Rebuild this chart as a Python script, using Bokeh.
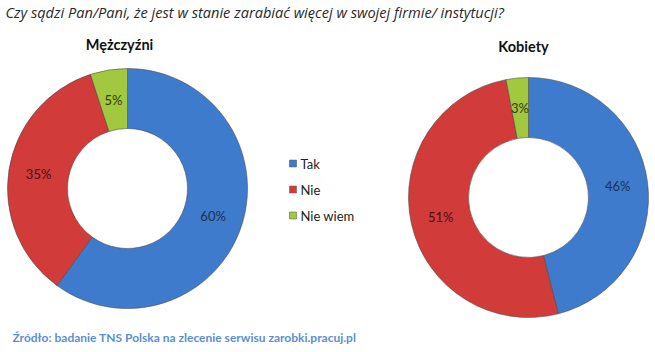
import numpy as np
from bokeh.plotting import figure
from bokeh.models import Range1d, ColumnDataSource
from bokeh.core.properties import value
from bokeh.embed import file_html
from bokeh.resources import INLINE

categories = ["Tak", "Nie", "Nie wiem"]
men = [60, 35, 5]
women = [46, 51, 3]
group_titles = ["Mężczyźni", "Kobiety"]
colors = ["#3f7bcc", "#d13b3a", "#a2c83f"]
label_colors = ["#1d3050", "#4a1010", "#2e3a0e"]
question = "Czy sądzi Pan/Pani, że jest w stanie zarabiać więcej w swojej firmie/ instytucji?"
source_note = "Źródło: badanie TNS Polska na zlecenie serwisu zarobki.pracuj.pl"

W, H = 655, 352
FONT = "Lato"

p = figure(width=W, height=H, x_range=Range1d(0, W), y_range=Range1d(0, H),
           x_axis_type=None, y_axis_type=None, output_backend="svg",
           toolbar_location=None, min_border=0)
p.grid.visible = False
p.outline_line_color = None
p.background_fill_color = "white"
p.border_fill_color = "white"

# layout: donut centres (screen px from top-left), radii
centres = [(127, 188), (528, 197)]
r_in, r_out = 60, 120
title_pos = [(119, 44), (523, 46)]

for values, (cx, cy), gtitle, (tx, ty) in zip([men, women], centres, group_titles, title_pos):
    vals = np.array(values, dtype=float)
    frac = vals / vals.sum()
    cum_end = np.cumsum(frac)
    cum_start = cum_end - frac
    start = np.pi / 2 - 2 * np.pi * cum_start
    end = np.pi / 2 - 2 * np.pi * cum_end
    mid = (cum_start + cum_end) / 2 * 2 * np.pi
    rl = (r_in + r_out) / 2
    src = ColumnDataSource(dict(
        x=[cx] * 3, y=[H - cy] * 3, start=start, end=end, color=colors,
        lx=cx + rl * np.sin(mid), ly=(H - cy) + rl * np.cos(mid),
        lab=[f"{int(v)}%" for v in values], lcol=label_colors))
    p.annular_wedge(x="x", y="y", inner_radius=r_in, outer_radius=r_out,
                    start_angle="start", end_angle="end", direction="clock",
                    fill_color="color", line_color="#4a4a4a", line_alpha=0.7,
                    line_width=0.8, source=src)
    p.text(x="lx", y="ly", text="lab", text_color="lcol", text_align="center",
           text_baseline="middle", text_font=value(FONT), text_font_size="13px",
           source=src)
    p.text(x=[tx], y=[H - ty], text=[gtitle], text_align="center",
           text_baseline="middle", text_font=value(FONT), text_font_size="14.5px",
           text_font_style="bold", text_color="#111111")

# legend
leg_y = [163, 189, 215]
p.scatter(x=[292.5] * 3, y=[H - v for v in leg_y], marker="square", size=7,
          fill_color=colors, line_color="#555555", line_width=0.5)
p.text(x=[300] * 3, y=[H - v for v in leg_y], text=categories, text_align="left",
       text_baseline="middle", text_font=value(FONT), text_font_size="13px",
       text_color="#222222")

# headline question and source
p.text(x=[5], y=[H - 11], text=[question], text_align="left", text_baseline="middle",
       text_font=value("Open Sans"), text_font_size="14.6px", text_font_style="italic",
       text_color="#2a2a2a")
p.text(x=[12], y=[H - 337], text=[source_note], text_align="left",
       text_baseline="middle", text_font=value(FONT), text_font_size="12px",
       text_font_style="bold", text_color="#5b8fd3")

open("out.html", "w").write(file_html(p, INLINE))
